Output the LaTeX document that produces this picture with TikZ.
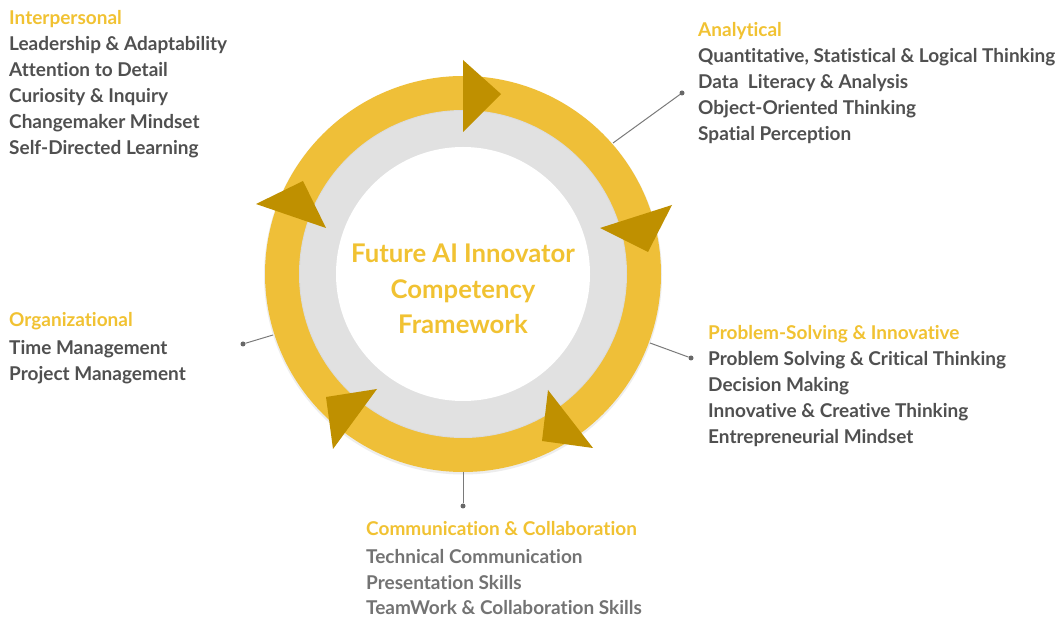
\documentclass[tikz,border=0pt]{standalone}
\usepackage{fontspec}
\setmainfont{Lato}[Ligatures=NoCommon]
\definecolor{ringyellow}{HTML}{EFBF38}
\definecolor{arrowgold}{HTML}{BF9000}
\definecolor{diskgray}{HTML}{E1E1E1}
\definecolor{headyellow}{HTML}{F1C232}
\definecolor{itemgray}{HTML}{505050}
\definecolor{softgray}{HTML}{737373}
\definecolor{linegray}{HTML}{7A7A7A}
\newcommand{\itemfont}{\fontsize{19}{22}\selectfont\bfseries}
\newcommand{\titlefont}{\fontsize{25.7}{30}\selectfont\bfseries}
\tikzset{
  head/.style={anchor=base west, inner sep=0pt, text=headyellow, font=\itemfont},
  entry/.style={anchor=base west, inner sep=0pt, text=itemgray, font=\itemfont},
  softentry/.style={entry, text=softgray},
  title/.style={anchor=base, inner sep=0pt, text=headyellow, font=\titlefont},
  dotnode/.style={circle, fill=linegray!85!black, minimum size=5pt, inner sep=0pt},
  conn/.style={draw=linegray, line width=1pt},
  pointer/.style={fill=arrowgold},
}
\begin{document}
\begin{tikzpicture}[x=1pt, y=-1pt]
\useasboundingbox[fill=white] (0,0) rectangle (1061,617);

% ring, inner disk and centre
\coordinate (c) at (463,274);
\fill[black!7] (c) ++(0,1.5) circle (199);
\fill[ringyellow] (c) circle (198);
\fill[black!14] (c) circle (164);
\fill[diskgray] (c) circle (163);
\fill[white] (c) circle (127);

% arrowheads on the ring, running clockwise
\fill[pointer] (463,60) -- (501,94) -- (463,132) -- cycle;
\fill[pointer] (672,205) -- (600,228) -- (648,252) -- cycle;
\fill[pointer] (548,390) -- (593,448) -- (542,441) -- cycle;
\fill[pointer] (326,397) -- (377,389) -- (333,449) -- cycle;
\fill[pointer] (256,204) -- (303,181) -- (326,228) -- cycle;

% title
\node[title] (t1) at (463,263) {Future AI Innovator};
\node[title] (t2) at (463,299) {Competency};
\node[title] (t3) at (463,334) {Framework};

% leader lines
\coordinate (aring) at (613,143);
\node[dotnode] (adot) at (682,93) {};
\draw[conn] (aring) -- (adot);
\coordinate (oring) at (273,335);
\node[dotnode] (odot) at (243,344) {};
\draw[conn] (oring) -- (odot);
\coordinate (pring) at (650,343);
\node[dotnode] (pdot) at (691,358) {};
\draw[conn] (pring) -- (pdot);
\coordinate (cring) at (463,472);
\node[dotnode] (cdot) at (463,506) {};
\draw[conn] (cring) -- (cdot);

% Interpersonal
\node[head]  (i0) at (9,25)  {Interpersonal};
\node[entry] (i1) at (9,51)  {Leadership \& Adaptability};
\node[entry] (i2) at (9,77)  {Attention to Detail};
\node[entry] (i3) at (9,103) {Curiosity \& Inquiry};
\node[entry] (i4) at (9,129) {Changemaker Mindset};
\node[entry] (i5) at (9,155) {Self-Directed Learning};

% Analytical
\node[head]  (a0) at (698,37)  {Analytical};
\node[entry] (a1) at (698,63)  {Quantitative, Statistical \& Logical Thinking};
\node[entry] (a2) at (698,89)  {Data\ \ Literacy \& Analysis};
\node[entry] (a3) at (698,115) {Object-Oriented Thinking};
\node[entry] (a4) at (698,141) {Spatial Perception};

% Organizational
\node[head]  (o0) at (9,327) {Organizational};
\node[entry] (o1) at (9,355) {Time Management};
\node[entry] (o2) at (9,381) {Project Management};

% Problem-Solving & Innovative
\node[head]  (p0) at (708,340) {Problem-Solving \& Innovative};
\node[entry] (p1) at (708,366) {Problem Solving \& Critical Thinking};
\node[entry] (p2) at (708,392) {Decision Making};
\node[entry] (p3) at (708,418) {Innovative \& Creative Thinking};
\node[entry] (p4) at (708,444) {Entrepreneurial Mindset};

% Communication & Collaboration
\node[head]      (m0) at (366,536) {Communication \& Collaboration};
\node[softentry] (m1) at (366,563) {Technical Communication};
\node[softentry] (m2) at (366,589) {Presentation Skills};
\node[softentry] (m3) at (366,614) {TeamWork \& Collaboration Skills};
\end{tikzpicture}
\end{document}
